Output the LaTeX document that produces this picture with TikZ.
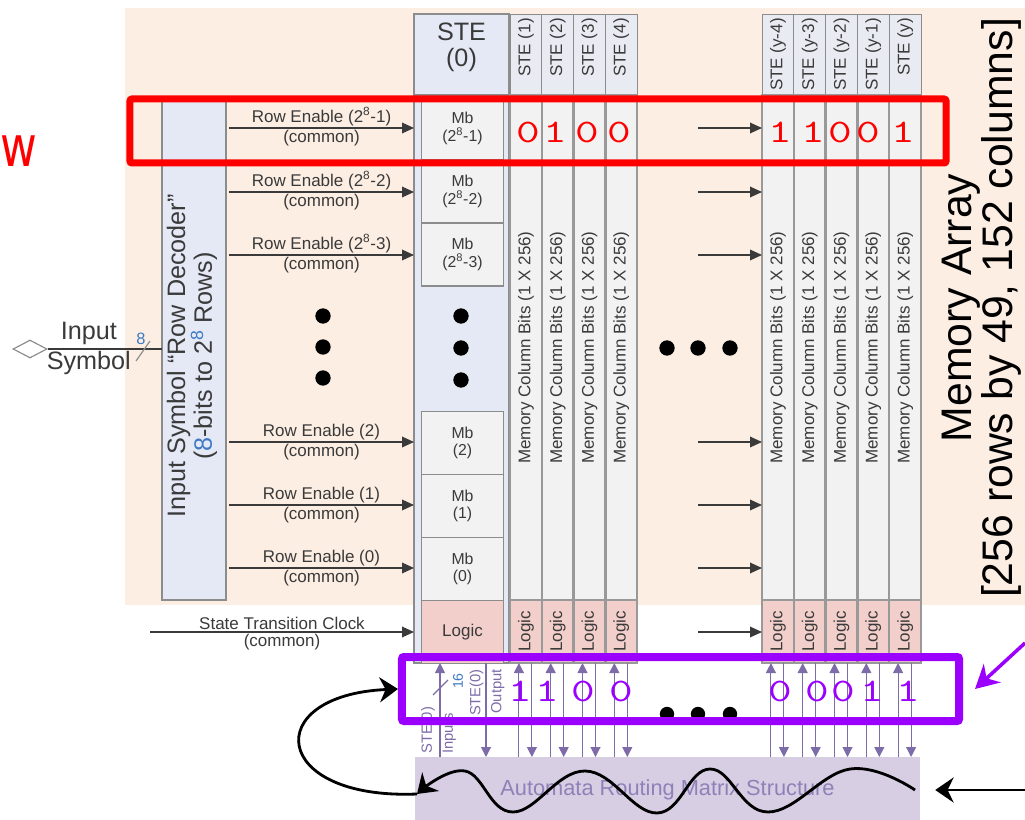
\documentclass[tikz,border=0pt]{standalone}
\usepackage{xcolor}
\usepackage{fontspec}
\setmainfont{Liberation Sans}
\newfontfamily\markfont[FakeStretch=0.8]{DejaVu Sans}
\usepackage{tikz}
\usetikzlibrary{shapes, arrows.meta, positioning}

\definecolor{peach}{HTML}{FCEEE3}
\definecolor{lavender}{HTML}{E5E9F6}
\definecolor{headfill}{HTML}{E9EBF2}
\definecolor{cellgray}{HTML}{F2F2F2}
\definecolor{edgegray}{HTML}{8C8C8C}
\definecolor{bargray}{HTML}{999999}
\definecolor{logicpink}{HTML}{F2CFCB}
\definecolor{routefill}{HTML}{D7CEE4}
\definecolor{routeline}{HTML}{7E6CA9}
\definecolor{routetext}{HTML}{8F81B7}
\definecolor{hired}{HTML}{FF0000}
\definecolor{hipurple}{HTML}{9B00FF}
\definecolor{bitblue}{HTML}{3F7AC4}
\definecolor{ink}{HTML}{3A3A3A}

\newcommand{\lblsize}{\fontsize{14.5}{16}\selectfont}
\newcommand{\bitchar}[1]{\scalebox{1.4}[1]{#1}}

\begin{document}
\begin{tikzpicture}[
            x=0.03cm, y=-0.03cm,
            node distance=0pt,
            every node/.style={text=ink},
            % boxes of the array
            decoder/.style={draw=edgegray, fill=lavender, line width=0.9pt, inner sep=0pt, outer sep=0pt},
            mbbox/.style={
                draw=edgegray, fill=cellgray, line width=0.9pt,
                minimum width=2.46cm, minimum height=1.89cm,
                inner sep=0pt, outer sep=0pt, align=center,
                font=\fontsize{13.5}{15}\selectfont
            },
            colhead/.style={draw=edgegray, fill=headfill, line width=0.8pt, minimum width=0.954cm, minimum height=2.43cm, inner sep=0pt, outer sep=0pt},
            colbody/.style={draw=bargray, fill=cellgray, line width=2.2pt, minimum width=0.954cm, minimum height=15.15cm, inner sep=0pt, outer sep=0pt},
            collogic/.style={draw=bargray, fill=logicpink, line width=2.2pt, minimum width=0.954cm, minimum height=1.89cm, inner sep=0pt, outer sep=0pt},
            % texts
            vtext/.style={rotate=90, font=\lblsize, inner sep=0pt},
            lbl/.style={font=\lblsize, inner sep=1.5pt},
            bit/.style={font=\ttfamily\fontsize{28}{28}\selectfont, inner sep=0pt},
            dot/.style={circle, fill=black, inner sep=0pt, minimum size=0.46cm},
            % arrows
            rowarrow/.style={draw=ink, line width=1.1pt, -{Triangle[length=0.36cm, width=0.32cm]}},
            busup/.style={draw=routeline, line width=0.9pt, {Triangle[length=0.3cm, width=0.3cm]}-},
            busdown/.style={draw=routeline, line width=0.9pt, -{Triangle[length=0.3cm, width=0.3cm]}},
            bigarrow/.style={draw=black, line width=2.4pt, -{Stealth[length=0.55cm, width=0.75cm]}}
        ]

        \useasboundingbox (0,0) rectangle (1025,820);

        % Memory array background
        \fill[peach] (125,8) rectangle (1025,605);

        % Row decoder
        \node[decoder, minimum width=1.92cm, minimum height=15.06cm] (dec) at (194,349) {};
        \node[vtext, align=center, font=\fontsize{21.5}{23}\selectfont] (decText) at (192,356) {Input Symbol “Row Decoder”\\(\textcolor{bitblue}{8}-bits to 2\textsuperscript{\textcolor{bitblue}{8}} Rows)};

        % Input symbol
        \node[diamond, draw=edgegray, line width=1pt, minimum width=1.02cm, minimum height=0.54cm, inner sep=0pt] (inSym) at (30,349) {};
        \draw[ink, line width=1pt] (inSym.east) -- node[pos=0.36, above, inner sep=3pt, font=\fontsize{21.5}{23}\selectfont] (inTop) {Input} node[pos=0.36, below, inner sep=1pt, font=\fontsize{21.5}{23}\selectfont] (inBot) {Symbol} (dec.west);
        \draw[edgegray, line width=1pt] (136,361) -- (150,341);
        \node[text=bitblue, inner sep=0pt, font=\fontsize{14}{15}\selectfont] (inWidth) at (141,339) {8};

        % STE (0) column
        \node[decoder, minimum width=2.85cm, minimum height=2.43cm, anchor=north] (ste0hd) at (461.5,14) {};
        \node[align=center, inner sep=0pt, font=\fontsize{21.5}{22}\selectfont] (ste0txt) at (461.5,47) {STE\\(0)};
        \node[decoder, line width=1.2pt, minimum width=2.85cm, minimum height=17.04cm, below=of ste0hd] (ste0) {};

        \node[mbbox] (mbA) at (462.5,128.5) {Mb\\(2\textsuperscript{8}-1)};
        \node[mbbox, below=of mbA] (mbB) {Mb\\(2\textsuperscript{8}-2)};
        \node[mbbox, below=of mbB] (mbC) {Mb\\(2\textsuperscript{8}-3)};
        \node[mbbox] (mb2) at (462.5,443) {Mb\\(2)};
        \node[mbbox, below=of mb2] (mb1) {Mb\\(1)};
        \node[mbbox, below=of mb1] (mb0) {Mb\\(0)};
        \node[mbbox, fill=logicpink, below=of mb0, font=\lblsize] (ste0logic) {Logic};
        \foreach \y [count=\i] in {316,348,380}
            \node[dot] (stedot\i) at (461,\y) {};

        % Routing matrix
        \node[fill=routefill, minimum width=15.15cm, minimum height=1.89cm, inner sep=0pt, anchor=north] (route) at (667.5,757) {};
        \node[text=routetext, inner sep=0pt, font=\fontsize{18.6}{20}\selectfont] (routeTxt) at (667.5,790) {Automata Routing Matrix Structure};

        % Memory columns of the other STEs
        \foreach \cx/\name [count=\k] in {510/1, 541.8/2, 573.6/3, 605.4/4, 762/y-4, 793.8/y-3, 825.6/y-2, 857.4/y-1, 889.2/y} {
            \node[colhead, anchor=north west] (hd\k) at (\cx,14) {};
            \node[vtext, anchor=east] (hdt\k) at ([yshift=-0.12cm]hd\k.north) {STE (\name)};
            \node[colbody, below=of hd\k] (col\k) {};
            \node[vtext] (mct\k) at (col\k.center) {Memory Column Bits (1 X 256)};
            \node[collogic, below=of col\k] (lg\k) {};
            \node[vtext] (lgt\k) at (lg\k.center) {Logic};
            \draw[busup] ([xshift=-0.21cm]lg\k.south) -- ([xshift=-0.21cm]lg\k.south |- route.north);
            \draw[busdown] ([xshift=0.18cm]lg\k.south) -- ([xshift=0.18cm]lg\k.south |- route.north);
        }

        % Row enables and clock
        \foreach \y/\rw [count=\i] in {128/{2\textsuperscript{8}-1}, 192/{2\textsuperscript{8}-2}, 255/{2\textsuperscript{8}-3}, 442/2, 505/1, 568/0} {
            \coordinate (row\i) at (300,\y);
            \draw[rowarrow] ([xshift=0.09cm]dec.east |- row\i) -- node[lbl, above] {Row Enable (\rw)} node[lbl, below] {(common)} (ste0.west |- row\i);
        }
        \coordinate (clkIn) at (150,632);
        \draw[rowarrow] (clkIn) -- node[lbl, above] {State Transition Clock} node[lbl, below] {(common)} (ste0.west |- clkIn);
        \foreach \y [count=\i] in {316,347,378}
            \node[dot] (decdot\i) at (323,\y) {};

        % Gap between the two column groups
        \foreach \y [count=\i] in {128,192,255,442,505,568,632} {
            \coordinate (gap\i) at (698,\y);
            \draw[rowarrow] (gap\i) -- (col5.west |- gap\i);
        }
        \foreach \x [count=\i] in {667,698,730} {
            \node[dot] (gapdot\i) at (\x,348) {};
            \node[dot, minimum size=0.43cm] (busdot\i) at (\x,714) {};
        }

        % STE (0) inputs and output
        \draw[busup] ([xshift=-0.645cm]ste0.south) -- ([xshift=-0.645cm]ste0.south |- route.north);
        \draw[busdown] ([xshift=0.735cm]ste0.south) -- ([xshift=0.735cm]ste0.south |- route.north);
        \node[vtext, anchor=west, align=left, text=routeline, font=\fontsize{12.6}{18}\selectfont] (inLbl) at (438.5,754) {STE(0)\\Inputs};
        \node[vtext, anchor=east, align=right, text=routeline, font=\fontsize{12.6}{18}\selectfont] (outLbl) at (487,669) {STE(0)\\Output};
        \draw[routeline, line width=1pt] (433,695) -- (448,680);
        \node[vtext, text=bitblue, font=\fontsize{12}{13}\selectfont] (busWidth) at (458,681) {16};

        % Memory array title
        \node[vtext, text=black, align=center, font=\fontsize{36.5}{35}\selectfont] (memTitle) at (982,308) {Memory Array\\{[}256 rows by 49, 152 columns{]}};

        % Highlighted row
        \node[anchor=base east, inner sep=0pt, text=hired, font=\markfont\fontsize{48}{48}\selectfont] (rowMark) at (38,167) {w};
        \node[draw=hired, line width=0.21cm, rounded corners=0.06cm, minimum width=24.48cm, minimum height=1.92cm, inner sep=0pt] (rowHi) at (538,131) {};
        \foreach \x/\b [count=\i] in {528/0, 555/1, 587/0, 619/0, 780/1, 813/1, 840/0, 868/0, 903/1}
            \node[bit, text=hired] (rbit\i) at (\x,132) {\bitchar{\b}};

        % Highlighted outputs
        \node[draw=hipurple, line width=0.24cm, rounded corners=0.06cm, minimum width=16.71cm, minimum height=1.92cm, inner sep=0pt] (outHi) at (680.5,689) {};
        \foreach \x/\b [count=\i] in {520/1, 547/1, 583/0, 621/0, 780/0, 817/0, 843/0, 872/1, 908/1}
            \node[bit, text=hipurple] (pbit\i) at (\x,691) {\bitchar{\b}};
        \coordinate (outPtr) at (1025,643);
        \draw[hipurple, line width=3pt, -{Stealth[length=0.7cm, width=0.75cm]}] (outPtr) -- ([xshift=0.36cm]outHi.east);

        % Feedback through the routing matrix
        \coordinate (routeIn) at (1025,790);
        \coordinate (waveStart) at (915,790);
        \coordinate (waveEnd) at (417,794);
        \draw[bigarrow] (routeIn) -- ([xshift=0.45cm]route.east |- routeTxt);
        \draw[bigarrow] plot[smooth, tension=0.7] coordinates {(waveStart) (850,769) (768,812) (710,769) (657,813) (585,771) (513,812) (465,771) (waveEnd)};
        \draw[bigarrow] (waveEnd) .. controls (270,800) and (260,695) .. (outHi.west);

        \end{tikzpicture}
\end{document}
